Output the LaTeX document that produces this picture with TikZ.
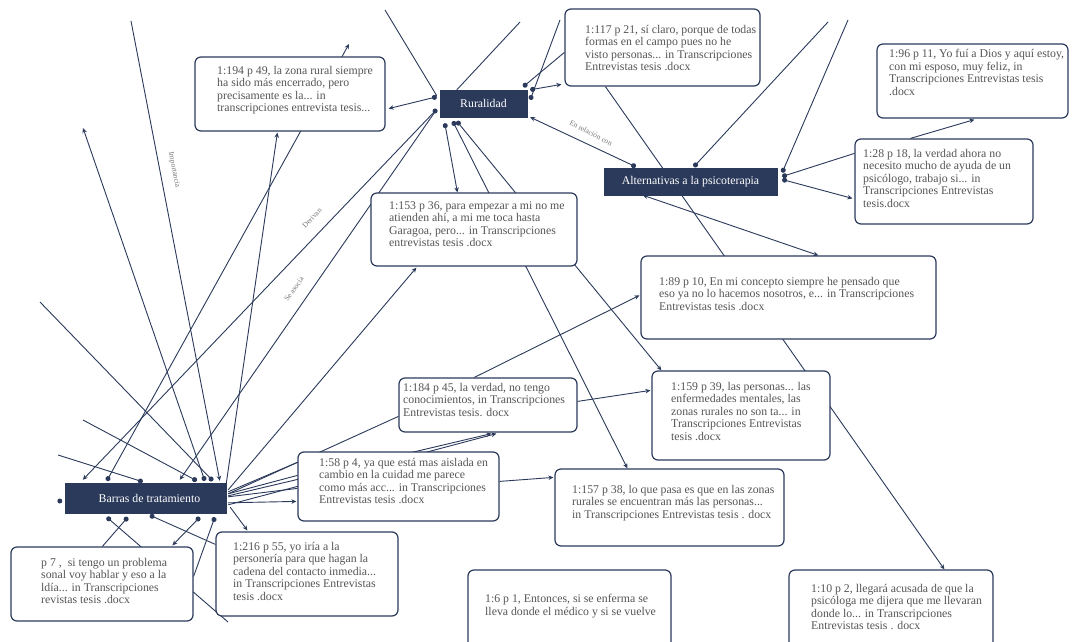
\documentclass[tikz,border=0pt]{standalone}
\usepackage{fontspec}
\setmainfont{Liberation Serif}
\usetikzlibrary{arrows.meta}
\definecolor{navy}{HTML}{2B3A5B}
\definecolor{txtgray}{HTML}{555555}
\definecolor{lblgray}{HTML}{777777}
\pgfdeclarelayer{bg}
\pgfsetlayers{bg,main}
\tikzset{
 qframe/.style={draw=navy, line width=1.2pt, rounded corners=6pt, fill=white, inner sep=0pt},
 qtext/.style={text=txtgray, align=left, inner sep=0pt, font=\fontsize{11.8}{12.5}\selectfont, anchor=north west},
 codebox/.style={fill=navy, draw=navy, text=white, inner sep=0pt, font=\fontsize{11.8}{13}\selectfont},
 link/.style={draw=navy, line width=0.9pt},
 arr/.style={-{Stealth[length=5pt,width=4.5pt]}},
 dotarr/.style={{Circle[length=5pt]}-{Stealth[length=5pt,width=4.5pt]}},
 dotl/.style={{Circle[length=5pt]}-},
 dbl/.style={{Stealth[length=5pt,width=4.5pt]}-{Stealth[length=5pt,width=4.5pt]}},
 lbl/.style={text=lblgray, font=\fontsize{7.5}{8}\selectfont, inner sep=0pt},
}
\newcommand{\qnote}[8]{%
 \node[qframe, minimum width={(#4-#2)*1pt}, minimum height={(#5-#3)*1pt}] (#1) at ({(#2+#4)/2},{(#3+#5)/2}) {};
 \node[qtext] (#1t) at (#6,#7) {#8};
}
\begin{document}
\begin{tikzpicture}[x=1pt,y=-1pt]
\useasboundingbox (0,0) rectangle (1073,642);
\clip (0,0) rectangle (1073,642);
\begin{pgfonlayer}{bg}
\fill[white] (0,0) rectangle (1073,642);
\end{pgfonlayer}

% codes
\node[codebox, minimum width=87pt, minimum height=27pt] (rur) at (483.5,103.5) {Ruralidad};
\node[codebox, minimum width=173pt, minimum height=27pt] (alt) at (690.5,181.5) {Alternativas a la psicoterapia};
\node[codebox, minimum width=161pt, minimum height=30pt] (bar) at (145.5,498) {\hspace*{8pt}Barras de tratamiento};

% quotations
\qnote{n194}{195}{57}{385}{131}{217}{66}{1:194 p 49, la zona rural siempre\\ha sido más encerrado, pero\\precisamente es la... in\\transcripciones entrevista tesis...}
\qnote{n117}{565}{9}{760}{86}{585}{25}{1:117 p 21, sí claro, porque de todas\\formas en el campo pues no he\\visto personas... in Transcripciones\\Entrevistas tesis .docx}
\qnote{n96}{877}{44}{1068}{118}{889}{49}{1:96 p 11, Yo fuí a Dios y aquí estoy,\\con mi esposo, muy feliz, in\\Transcripciones Entrevistas tesis\\.docx}
\qnote{n28}{855}{139}{1033}{224}{863}{149}{1:28 p 18, la verdad ahora no\\necesito mucho de ayuda de un\\psicólogo, trabajo si... in\\Transcripciones Entrevistas\\tesis.docx}
\qnote{n153}{371}{193}{577}{266}{389}{201}{1:153 p 36, para empezar a mi no me\\atienden ahí, a mi me toca hasta\\Garagoa, pero... in Transcripciones\\entrevistas tesis .docx}
\qnote{n89}{641}{256}{936}{339}{659}{277}{1:89 p 10, En mi concepto siempre he pensado que\\eso ya no lo hacemos nosotros, e... in Transcripciones\\Entrevistas tesis .docx}
\qnote{n184}{399}{378}{577}{432}{403}{383}{1:184 p 45, la verdad, no tengo\\conocimientos, in Transcripciones\\Entrevistas tesis. docx}
\qnote{n159}{652}{371}{830}{460}{671}{382}{1:159 p 39, las personas... las\\enfermedades mentales, las\\zonas rurales no son ta... in\\Transcripciones Entrevistas\\tesis .docx}
\qnote{n58}{298}{452}{499}{521}{319}{458}{1:58 p 4, ya que está mas aislada en\\cambio en la cuidad me parece\\como más acc... in Transcripciones\\Entrevistas tesis .docx}
\qnote{n157}{555}{469}{784}{546}{572}{485}{1:157 p 38, lo que pasa es que en las zonas\\rurales se encuentran más las personas...\\in Transcripciones Entrevistas tesis . docx}
\qnote{n216}{216}{532}{398}{616}{233}{542}{1:216 p 55, yo iría a la\\personería para que hagan la\\cadena del contacto inmedia...\\in Transcripciones Entrevistas\\tesis .docx}
\qnote{p7}{11}{547}{193}{621}{41}{558}{p 7 ,\ \ si tengo un problema\\sonal voy hablar y eso a la\\ldía... in Transcripciones\\revistas tesis .docx}
\qnote{n6}{468}{570}{671}{660}{485}{594}{1:6 p 1, Entonces, si se enferma se\\lleva donde el médico y si se vuelve}
\qnote{n10}{789}{570}{993}{660}{811}{584}{1:10 p 2, llegará acusada de que la\\psicóloga me dijera que me llevaran\\donde lo... in Transcripciones\\Entrevistas tesis . docx}

% free ends
\coordinate (f1) at (385,10);
\coordinate (f2) at (520,22);
\coordinate (f3) at (560,20);
\coordinate (f4) at (828,22);
\coordinate (f5) at (848,20);
\coordinate (f6) at (131,21);
\coordinate (f7) at (83,128);
\coordinate (f8) at (349,44);
\coordinate (f9) at (40,302);
\coordinate (f10) at (58,455);
\coordinate (f11) at (83,420);
\coordinate (f12) at (228,622);

\begin{pgfonlayer}{bg}
% Ruralidad
\draw[link,dotarr] ([shift={(-3,7)}]rur.north west) -- ([shift={(3,-23)}]n194.south east);
\draw[link] (f1) -- ([shift={(-3,6)}]rur.north west);
\draw[link] (f2) -- ([shift={(17,0)}]rur.north west);
\draw[link,dotl] ([shift={(-4,-3)}]rur.north east) -- ([shift={(0,44)}]n117.north west);
\draw[link,dotarr] ([shift={(3,0)}]rur.north east) -- ([shift={(-3,76)}]n117.north west);
\draw[link,dotl] ([shift={(3,10)}]rur.north east) -- (f3);
\draw[link,dotarr] ([shift={(32,-1)}]alt.north west) -- ([shift={(3,0)}]rur.south east);
\draw[link,dotarr] ([shift={(5,6)}]rur.south west) -- ([shift={(87,0)}]n153.north west);
\draw[link,dotarr] ([shift={(13,4)}]rur.south west) -- ([shift={(73,0)}]n157.north west);
\draw[link,dotarr] ([shift={(17,4)}]rur.south west) -- ([shift={(10,0)}]n159.north west);
\draw[link,dotarr] ([shift={(-3,-8)}]rur.south west) -- ([shift={(18,-3)}]bar.north west);
\draw[link,arr] ([shift={(-3,-8)}]rur.south west) -- ([shift={(115,-3)}]bar.north west);
% Alternativas
\draw[link,dotl] ([shift={(90,-1)}]alt.north west) -- (f4);
\draw[link,dotl] ([shift={(5,-9)}]alt.east) -- (f5);
\draw[link,dotl] ([shift={(5,-5)}]alt.east) -- ([shift={(0,15)}]n28.north west);
\draw[link,dotarr] ([shift={(5,-2)}]alt.east) -- ([shift={(-2,60)}]n28.north west);
\draw[link,arr] ([shift={(56,0)}]n28.north west) -- ([shift={(98,1)}]n96.south west);
\draw[link,arr] ([shift={(41,0)}]n117.south west) -- ([shift={(156,0)}]n10.north west);
\draw[link,dbl] ([shift={(39,0)}]alt.south west) -- ([shift={(178,0)}]n89.north west);
% Barras top
\draw[link,dotarr] ([shift={(140,-2)}]bar.north west) -- (f7);
\draw[link,dotarr] ([shift={(42,-2)}]bar.north west) -- (f8);
\draw[link,arr] (f6) -- ([shift={(155,-2)}]bar.north west);
\draw[link,arr] ([shift={(0,1)}]bar.north east) -- ([shift={(83,1)}]n194.south west);
\draw[link,arr] ([shift={(2,7)}]bar.north east) -- ([shift={(46,1)}]n153.south west);
\draw[link,dotl] ([shift={(148,-2)}]bar.north west) -- (f9);
\draw[link,dotl] ([shift={(78,-1)}]bar.north west) -- (f10);
\draw[link,dotl] ([shift={(132,-2)}]bar.north west) -- (f11);
% Barras right
\draw[link] ([shift={(2,11)}]bar.north east) -- ([shift={(0,39)}]n184.north west);
\draw[link,arr] ([shift={(2,13)}]bar.north east) -- ([shift={(93,1)}]n184.south west);
\draw[link,arr] ([shift={(2,22)}]bar.north east) -- ([shift={(98,1)}]n184.south west);
\draw[link] ([shift={(2,9)}]bar.north east) -- ([shift={(0,11)}]n58.north west);
\draw[link] ([shift={(2,11)}]bar.north east) -- ([shift={(0,24)}]n58.north west);
\draw[link] ([shift={(2,14)}]bar.north east) -- ([shift={(0,37)}]n58.north west);
\draw[link,arr] ([shift={(2,20)}]bar.north east) -- ([shift={(-1,50)}]n58.north west);
\draw[link,arr] ([shift={(4,-6)}]bar.south east) -- ([shift={(32,-1)}]n216.north west);
% Barras bottom
\draw[link,dotl] ([shift={(42,4)}]bar.south west) -- (f12);
\draw[link,dotl] ([shift={(63,4)}]bar.south west) -- ([shift={(92,0)}]p7.north west);
\draw[link,dotl] ([shift={(85,2)}]bar.south west) -- ([shift={(0,13)}]n216.north west);
\draw[link,dotarr] ([shift={(135,4)}]bar.south west) -- ([shift={(162,-1)}]p7.north west);
\draw[link,dotl] ([shift={(150,4)}]bar.south west) -- ([shift={(0,30)}]p7.north east);
% quotation links
\draw[link,arr] ([shift={(76,0)}]n184.north west) -- ([shift={(-1,40)}]n89.north west);
\draw[link,arr] ([shift={(0,24)}]n184.north east) -- ([shift={(-1,20)}]n159.north west);
\draw[link,arr] ([shift={(0,30)}]n58.north east) -- ([shift={(-1,9)}]n157.north west);
\end{pgfonlayer}
\fill[navy] ([shift={(-5,3)}]bar.west) circle (2.5);

% link labels
\node[lbl, rotate=-79] (lImp) at (174,170) {Importancia};
\node[lbl, rotate=46] (lDer) at (312,218) {Derivan};
\node[lbl, rotate=55] (lSe) at (294,289) {Se asocia};
\node[lbl, rotate=-28] (lRel) at (591,133) {En relación con};
\end{tikzpicture}
\end{document}
